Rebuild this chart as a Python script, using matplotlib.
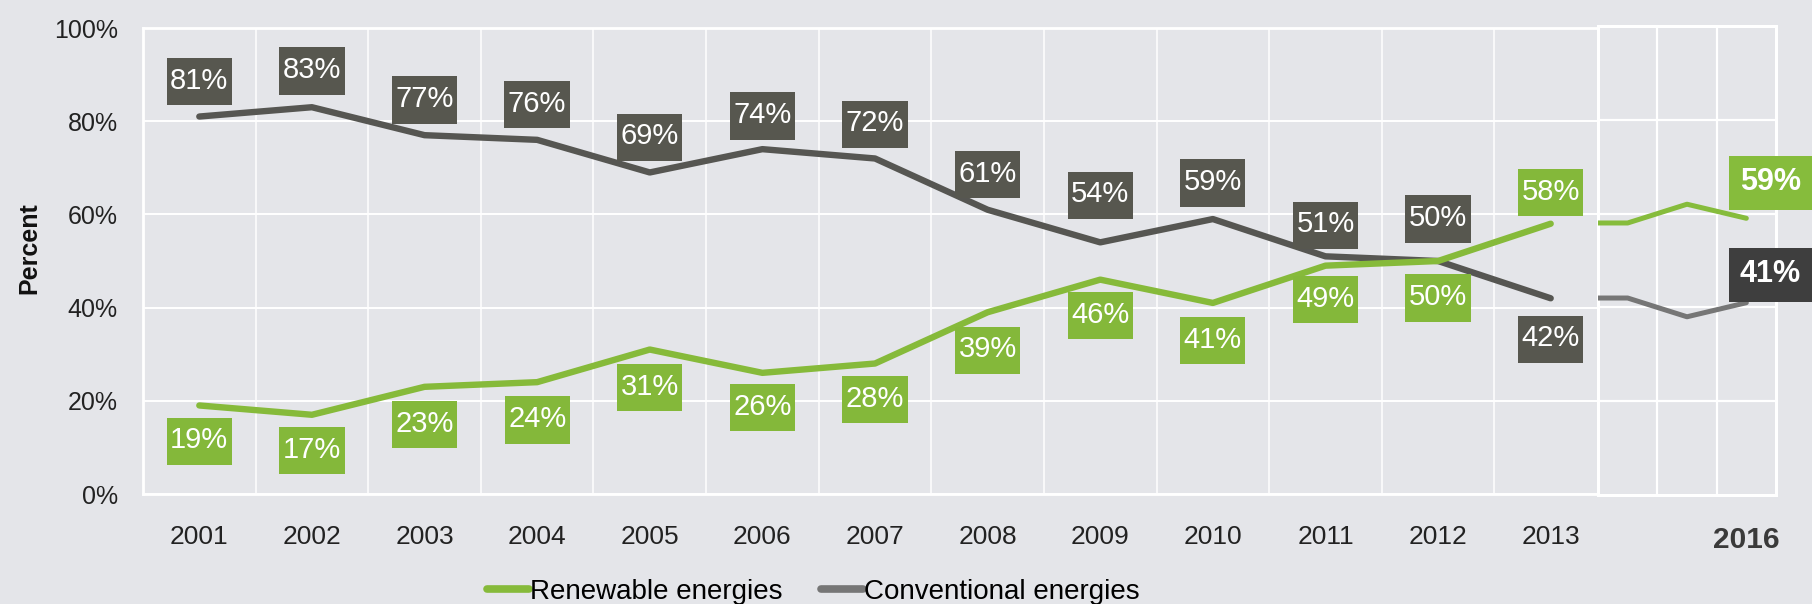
import matplotlib
matplotlib.use("Agg")
import matplotlib.pyplot as plt
from matplotlib.lines import Line2D
from matplotlib.path import Path

# ---- data -------------------------------------------------------------
years = ["2001", "2002", "2003", "2004", "2005", "2006", "2007",
         "2008", "2009", "2010", "2011", "2012", "2013"]
renewable = [19, 17, 23, 24, 31, 26, 28, 39, 46, 41, 49, 50, 58]
conventional = [81, 83, 77, 76, 69, 74, 72, 61, 54, 59, 51, 50, 42]

outlook_ticks = ["", "", "2016"]
outlook_renewable = [58, 62, 59]
outlook_conventional = [42, 38, 41]

y_ticks = [0, 20, 40, 60, 80, 100]

# vertical label offsets in pixels (positive = above the point)
conv_label_dy = [36, 37, 36, 36, 36, 34, 35, 36, 48, 37, 32, 43, -40]
ren_label_dy = [-35, -35, -37, -37, -37, -34, -35, -37, -35, -37, -33, -36, 32]

# ---- style ------------------------------------------------------------
BG = "#e4e5e9"
GREEN = "#86ba3a"
GREEN_LABEL = "#84b83a"
GRAY = "#565652"
GRAY_LABEL = "#57574f"
GREEN_LIGHT = "#86bc3c"
GRAY_LIGHT = "#767676"
DARK_LABEL = "#3e3e3e"
FONT = "Liberation Sans"

W, H = 1812, 604
fig = plt.figure(figsize=(W / 100, H / 100), dpi=100)
fig.patch.set_facecolor(BG)


def frac_box(x0, x1, ytop, ybot):
    return [x0 / W, (H - ybot) / H, (x1 - x0) / W, (ybot - ytop) / H]


def padded_box(hpad, top, bottom):
    """Rectangle box style with separate horizontal / top / bottom padding
    (given as fractions of the font size)."""
    def style(x0, y0, width, height, mutation_size):
        h = hpad * mutation_size
        t = top * mutation_size
        b = bottom * mutation_size
        xa, xb = x0 - h, x0 + width + h
        ya, yb = y0 - b, y0 + height + t
        return Path([(xa, ya), (xb, ya), (xb, yb), (xa, yb), (xa, ya)], closed=True)
    return style


# ---- main panel -------------------------------------------------------
ax = fig.add_axes(frac_box(143, 1607, 28, 494))
ax.set_facecolor(BG)
x = list(range(len(years)))
ax.set_xlim(-0.5, len(years) - 0.5)
ax.set_ylim(0, 100)

ax.set_yticks(y_ticks)
ax.set_yticklabels([f"{t}%" for t in y_ticks], fontfamily=FONT, fontsize=18, color="#222222")
ax.set_xticks(x)
ax.set_xticklabels(years, fontfamily=FONT, fontsize=19, color="#222222")
ax.set_xticks([i + 0.5 for i in x[:-1]], minor=True)
ax.tick_params(axis="both", which="both", length=0)
ax.tick_params(axis="y", pad=18)
ax.tick_params(axis="x", pad=22)

ax.grid(axis="y", which="major", color="white", lw=1.4)
ax.grid(axis="x", which="minor", color="white", lw=1.1)
ax.grid(axis="x", which="major", visible=False)
ax.set_axisbelow(True)
for side in ("left", "bottom", "top"):
    ax.spines[side].set_color("white")
    ax.spines[side].set_linewidth(2.0)
ax.spines["right"].set_visible(False)

ax.plot(x, conventional, color=GRAY, lw=4.6, solid_joinstyle="round",
        solid_capstyle="round", zorder=3)
ax.plot(x, renewable, color=GREEN, lw=4.6, solid_joinstyle="round",
        solid_capstyle="round", zorder=3)


def value_label(axis, xi, v, dy, fc, dx=0, size=21, weight="normal",
                box=padded_box(0.12, 0.30, 0.36)):
    axis.annotate(f"{v}%", xy=(xi, v), xytext=(dx, dy), textcoords="offset pixels",
                  ha="center", va="center", color="white", fontsize=size,
                  fontfamily=FONT, fontweight=weight, zorder=5,
                  annotation_clip=False,
                  bbox=dict(boxstyle=box, fc=fc, ec="none"))


for xi, v, dy in zip(x, conventional, conv_label_dy):
    value_label(ax, xi, v, dy, GRAY_LABEL)
for xi, v, dy in zip(x, renewable, ren_label_dy):
    value_label(ax, xi, v, dy, GREEN_LABEL)

fig.text(29 / W, 1 - 248 / H, "Percent", rotation=90, ha="center", va="center",
         fontfamily=FONT, fontsize=18, fontweight="bold", color="#111111")

# ---- outlook panel ----------------------------------------------------
ins = fig.add_axes(frac_box(1598, 1776, 26, 495))
ins.set_facecolor(BG)
ins.set_zorder(2)
ox = list(range(len(outlook_ticks)))
ins.set_xlim(-0.5, len(outlook_ticks) - 0.5)
ins.set_ylim(0, 100)
ins.set_yticks(y_ticks[1:-1])
ins.set_yticklabels([])
ins.set_xticks(ox)
ins.set_xticklabels(outlook_ticks, fontfamily=FONT, fontsize=21.5, fontweight="bold",
                    color="#3a3a3a")
ins.set_xticks([i + 0.5 for i in ox[:-1]], minor=True)
ins.tick_params(axis="both", which="both", length=0)
ins.tick_params(axis="x", pad=22)
ins.grid(axis="y", which="major", color="white", lw=1.6)
ins.grid(axis="x", which="minor", color="white", lw=1.6)
ins.grid(axis="x", which="major", visible=False)
ins.set_axisbelow(True)
for side in ins.spines.values():
    side.set_color("white")
    side.set_linewidth(2.2)

# the segment coming in from 2013 is clipped at the panel edge
ins.plot([-1] + ox, [conventional[-1]] + outlook_conventional, color=GRAY_LIGHT,
         lw=3.6, solid_joinstyle="round", solid_capstyle="round", zorder=3)
ins.plot([-1] + ox, [renewable[-1]] + outlook_renewable, color=GREEN_LIGHT,
         lw=3.6, solid_joinstyle="round", solid_capstyle="round", zorder=3)

big_box = padded_box(0.36, 0.36, 0.42)
value_label(ins, ox[-1], outlook_renewable[-1], 36.5, GREEN_LIGHT, dx=24, size=22,
            weight="bold", box=big_box)
value_label(ins, ox[-1], outlook_conventional[-1], 28.5, DARK_LABEL, dx=24, size=22,
            weight="bold", box=big_box)

# ---- legend -----------------------------------------------------------
handles = [Line2D([], [], color=GREEN, lw=5.5, solid_capstyle="round"),
           Line2D([], [], color=GRAY_LIGHT, lw=5.5, solid_capstyle="round")]
fig.legend(handles, ["Renewable energies", "Conventional energies"],
           loc="center", bbox_to_anchor=(((489 + 1138) / 2) / W, 1 - 592 / H),
           ncol=2, frameon=False, handlelength=1.5, handletextpad=0.05,
           columnspacing=1.4, borderaxespad=0,
           prop={"family": FONT, "size": 20})

fig.savefig("out.png", dpi=100, facecolor=BG)
